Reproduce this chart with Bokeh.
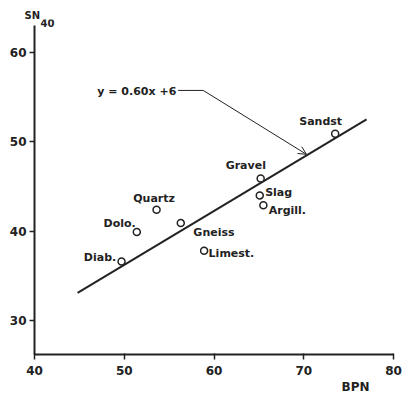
from bokeh.plotting import figure
from bokeh.models import ColumnDataSource, Label, Arrow, OpenHead, Range1d, FixedTicker, Title
from bokeh.core.properties import value
from bokeh.embed import file_html
from bokeh.resources import INLINE

materials = ["Sandst", "Gravel", "Slag", "Argill.", "Limest.", "Gneiss", "Quartz", "Dolo.", "Diab."]
bpn = [73.5, 65.2, 65.1, 65.5, 58.9, 56.3, 53.6, 51.4, 49.7]
sn40 = [50.9, 45.9, 44.0, 42.9, 37.8, 40.9, 42.4, 39.9, 36.6]
label_x = [69.5, 61.3, 65.7, 66.1, 59.4, 57.7, 51.0, 47.7, 45.5]
label_y = [52.3, 47.4, 44.3, 42.3, 37.5, 39.85, 43.7, 40.9, 37.1]

fit_label = "y = 0.60x +6"
fit_x = [44.8, 77.0]
fit_y = [33.1, 52.5]

x_ticks = [40, 50, 60, 70, 80]
y_ticks = [30, 40, 50, 60]

FONT = "DejaVu Sans"
INK = "#222222"

p = figure(width=404, height=393, output_backend="svg", toolbar_location=None, title=None,
           x_range=Range1d(40, 80), y_range=Range1d(26.19, 63.69),
           min_border_left=34, min_border_right=11, min_border_top=19, min_border_bottom=39)
p.outline_line_color = None
p.grid.visible = False
p.background_fill_color = "white"

for ax in (p.xaxis[0], p.yaxis[0]):
    ax.axis_line_color = INK
    ax.axis_line_width = 2
    ax.major_tick_line_color = INK
    ax.major_tick_line_width = 1.5
    ax.minor_tick_line_color = None
    ax.major_label_text_font = FONT
    ax.major_label_text_font_size = "12px"
    ax.major_label_text_font_style = "bold"
    ax.major_label_text_color = INK
p.xaxis[0].ticker = FixedTicker(ticks=x_ticks)
p.yaxis[0].ticker = FixedTicker(ticks=y_ticks)
p.yaxis[0].bounds = (26.19, 63.02)
p.xaxis[0].major_tick_out = 5
p.xaxis[0].major_tick_in = 1
p.yaxis[0].major_tick_out = 5
p.yaxis[0].major_tick_in = 0
p.xaxis[0].major_label_standoff = 6
p.yaxis[0].major_label_standoff = 3

p.line(fit_x, fit_y, line_color=INK, line_width=2)

src = ColumnDataSource(dict(x=bpn, y=sn40, lx=label_x, ly=label_y, name=materials))
p.scatter("x", "y", source=src, marker="circle", size=7, fill_color="white",
          line_color=INK, line_width=1.5)
p.text("lx", "ly", text="name", source=src, text_font=value(FONT), text_font_size="11px",
       text_font_style="bold", text_color=INK, text_baseline="middle", text_align="left")

# equation label with leader arrow
p.add_layout(Label(x=47.0, y=55.6, text=fit_label, text_font=FONT, text_font_size="11px",
                   text_font_style="bold", text_color=INK, text_baseline="middle"))
p.segment(x0=[56.0], y0=[55.75], x1=[58.8], y1=[55.75], line_color=INK, line_width=1)
p.add_layout(Arrow(end=OpenHead(size=8, line_color=INK, line_width=1), x_start=58.8, y_start=55.75,
                   x_end=70.3, y_end=48.6, line_color=INK, line_width=1))

# axis titles
p.add_layout(Title(text="SN", align="left", offset=-10, standoff=-3, text_font=FONT,
                   text_font_size="10px", text_font_style="bold", text_color=INK), "above")
p.text(x=[40.67], y=[63.3], text=["40"], text_font=value(FONT), text_font_size="10px",
       text_font_style="bold", text_color=INK, text_baseline="middle", text_align="left")
p.add_layout(Title(text="BPN", align="left", offset=307, standoff=0, text_font=FONT,
                   text_font_size="12px", text_font_style="bold", text_color=INK), "below")

open("out.html", "w").write(file_html(p, INLINE))
